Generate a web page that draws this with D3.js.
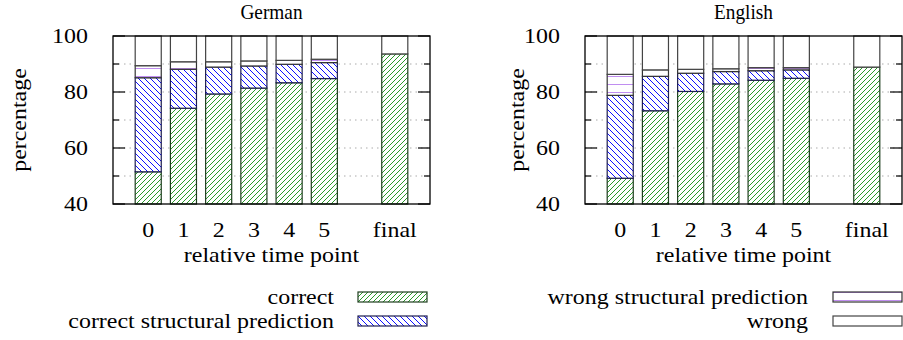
<!DOCTYPE html>
<meta charset="utf-8">
<style>
body { margin: 0; background: #fff; }
text { font-family: "Liberation Serif", "Times New Roman", serif; font-size: 21px; fill: #000; }
.grid line { stroke: #aaa; stroke-dasharray: 1.5 4; }
</style>
<body>
<svg width="903" height="340"></svg>
<script src="https://d3js.org/d3.v7.min.js"></script>
<script>

// time points (the empty slot keeps the gap before "final")
var timePoints = ["0", "1", "2", "3", "4", "5", "final"];
var slots = ["0", "1", "2", "3", "4", "5", "", "final"];
var seriesNames = ["correct", "correct structural prediction", "wrong structural prediction", "wrong"];
var yTicks = [40, 60, 80, 100];
var yMinor = [50, 70, 90];

// German
var deCorrect     = [51.5, 74.2, 79.3, 81.4, 83.3, 84.8, 93.6];
var deCorrStruct  = [33.6, 13.9,  9.6,  7.9,  6.6,  5.7,  0];
var deWrongStruct = [ 4.3,  2.7,  1.9,  1.8,  1.4,  1.2,  0];
var deWrong       = [10.6,  9.2,  9.2,  8.9,  8.7,  8.3,  6.4];

// English
var enCorrect     = [49.2, 73.3, 80.2, 82.9, 84.2, 84.9, 88.9];
var enCorrStruct  = [29.6, 12.3,  6.5,  4.4,  3.4,  3.0,  0];
var enWrongStruct = [ 7.5,  2.3,  1.4,  1.0,  1.1,  0.8,  0];
var enWrong       = [13.7, 12.1, 11.9, 11.7, 11.3, 11.3, 11.1];

var svg = d3.select("svg");
var defs = svg.append("defs");
var stretch = 1.14; // the reference font is a bit wider than Liberation Serif

function label(parent, x, y, str, anchor, rot, sx) {
  return parent.append("text")
    .attr("transform", "translate(" + x + "," + y + ")" + (rot ? " rotate(-90)" : "") + " scale(" + (sx || stretch) + ",1)")
    .attr("dy", "0.35em")
    .attr("text-anchor", anchor)
    .text(str);
}

function diag(id, color, size, dir) {
  var p = defs.append("pattern").attr("id", id)
      .attr("patternUnits", "userSpaceOnUse")
      .attr("width", size).attr("height", size);
  p.append("rect").attr("width", size).attr("height", size).attr("fill", "#fff");
  var d = dir > 0
    ? "M0," + size + "L" + size + ",0M-1,1L1,-1M" + (size - 1) + "," + (size + 1) + "L" + (size + 1) + "," + (size - 1)
    : "M0,0L" + size + "," + size + "M-1," + (size - 1) + "L1," + (size + 1) + "M" + (size - 1) + ",-1L" + (size + 1) + ",1";
  p.append("path").attr("d", d).attr("stroke", color).attr("stroke-width", 1);
}
diag("pat-green", "#2a9a2a", 5, 1);
diag("pat-blue", "#1010ff", 6, -1);
var hp = defs.append("pattern").attr("id", "pat-purple")
    .attr("patternUnits", "userSpaceOnUse").attr("width", 8).attr("height", 8);
hp.append("rect").attr("width", 8).attr("height", 8).attr("fill", "#fff");
hp.append("line").attr("x1", 0).attr("x2", 8).attr("y1", 4.5).attr("y2", 4.5)
    .attr("stroke", "#c08ef0").attr("stroke-width", 1);

var fills = ["url(#pat-green)", "url(#pat-blue)", "url(#pat-purple)", "#fff"];
var strokes = ["#1e3e1e", "#1e1e50", "#333", "#444"];

var panels = [
  {title: "German", left: 113, ylab: 19, series: [deCorrect, deCorrStruct, deWrongStruct, deWrong]},
  {title: "English", left: 585, ylab: 517, series: [enCorrect, enCorrStruct, enWrongStruct, enWrong]}
];

var plotTop = 36, plotBottom = 204, plotW = 317;

panels.forEach(function(pn) {
  var x = d3.scaleBand().domain(slots)
      .range([pn.left, pn.left + plotW])
      .paddingInner(0.26).paddingOuter(0.63);
  var y = d3.scaleLinear().domain([40, 100]).range([plotBottom, plotTop]);

  var rows = timePoints.map(function(t, i) {
    var r = {t: t};
    seriesNames.forEach(function(s, k) { r[s] = pn.series[k][i]; });
    return r;
  });
  var stacked = d3.stack().keys(seriesNames)(rows);

  // grid
  svg.append("g").attr("class", "grid")
    .selectAll("line").data([50, 60, 70, 80, 90]).enter().append("line")
      .attr("x1", pn.left).attr("x2", pn.left + plotW)
      .attr("y1", function(d) { return y(d); })
      .attr("y2", function(d) { return y(d); });

  // bars (the axis starts at 40, so clip the base there)
  stacked.forEach(function(layer, k) {
    svg.append("g").selectAll("rect").data(layer).enter().append("rect")
      .attr("x", function(d) { return x(d.data.t); })
      .attr("width", x.bandwidth())
      .attr("y", function(d) { return y(d[1]); })
      .attr("height", function(d) { return y(Math.max(d[0], 40)) - y(d[1]); })
      .attr("fill", fills[k])
      .attr("stroke", strokes[k])
      .attr("stroke-width", 1.2)
      .style("display", function(d) { return d[1] - d[0] > 0 ? null : "none"; });
  });

  // frame
  svg.append("rect")
    .attr("x", pn.left).attr("y", plotTop)
    .attr("width", plotW).attr("height", plotBottom - plotTop)
    .attr("fill", "none").attr("stroke", "#000").attr("stroke-width", 1.3);

  // y ticks (inward, mirrored)
  var tk = svg.append("g");
  yTicks.concat(yMinor).forEach(function(v) {
    var len = yTicks.indexOf(v) >= 0 ? 12 : 6;
    tk.append("line").attr("x1", pn.left).attr("x2", pn.left + len)
      .attr("y1", y(v)).attr("y2", y(v)).attr("stroke", "#000").attr("stroke-width", 1.2);
    tk.append("line").attr("x1", pn.left + plotW).attr("x2", pn.left + plotW - len)
      .attr("y1", y(v)).attr("y2", y(v)).attr("stroke", "#000").attr("stroke-width", 1.2);
  });
  var yl = svg.append("g");
  yTicks.forEach(function(v) { label(yl, pn.left - 25, y(v), v, "end"); });

  // x labels
  var xl = svg.append("g");
  timePoints.forEach(function(t) { label(xl, x(t) + x.bandwidth() / 2, 230, t, "middle"); });

  label(svg, pn.left + plotW / 2, 255, "relative time point", "middle");
  label(svg, pn.left + plotW / 2, 12, pn.title, "middle", false, 0.92);
  label(svg, pn.ylab, (plotTop + plotBottom) / 2, "percentage", "middle", true);
});

// legend
var legendPos = [
  {k: 0, tx: 334, bx: 358, y: 297},
  {k: 1, tx: 334, bx: 358, y: 321},
  {k: 2, tx: 808, bx: 833, y: 297},
  {k: 3, tx: 808, bx: 833, y: 321}
];
var lg = svg.append("g");
legendPos.forEach(function(l) {
  label(lg, l.tx, l.y, seriesNames[l.k], "end");
  lg.append("rect").attr("x", l.bx).attr("y", l.y - 5)
    .attr("width", 69).attr("height", 10)
    .attr("fill", fills[l.k]).attr("stroke", strokes[l.k]).attr("stroke-width", 1.2);
});

</script>
</body>
